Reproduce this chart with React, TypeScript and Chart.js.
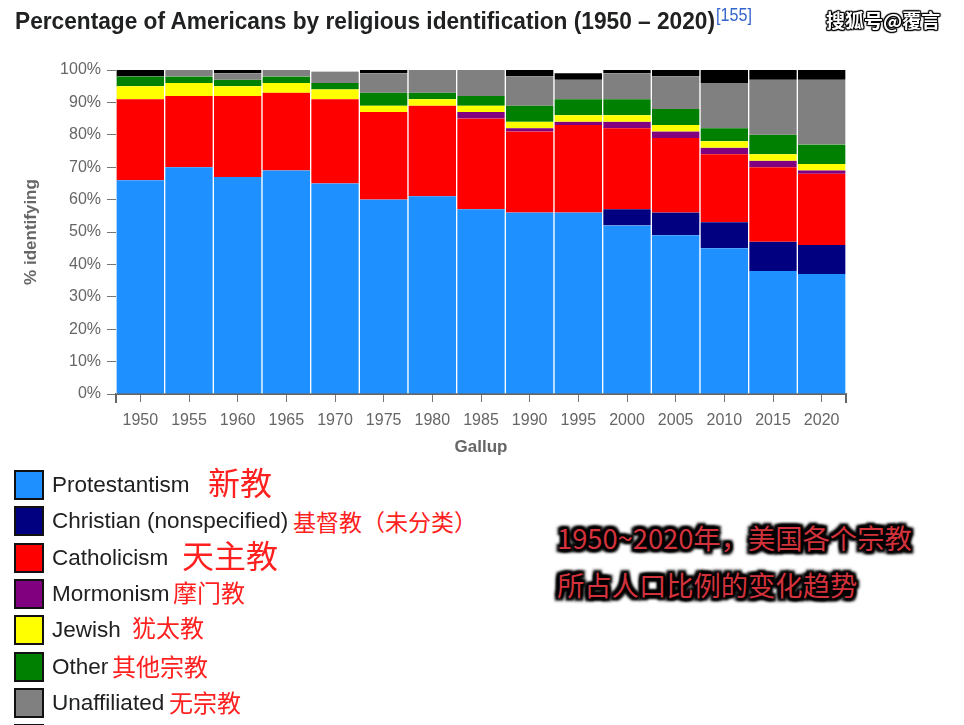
import React, { useEffect, useRef } from "react";
import { Chart, registerables } from "chart.js";

Chart.register(...registerables);

const years = ["1950", "1955", "1960", "1965", "1970", "1975", "1980", "1985", "1990", "1995", "2000", "2005", "2010", "2015", "2020"];

const protestantism = [66, 70, 67, 69, 65, 60, 61, 57, 56, 56, 52, 49, 45, 38, 37];
const christianNonspecified = [0, 0, 0, 0, 0, 0, 0, 0, 0, 0, 5, 7, 8, 9, 9];
const catholicism = [25, 22, 25, 24, 26, 27, 28, 28, 25, 27, 25, 23, 21, 23, 22];
const mormonism = [0, 0, 0, 0, 0, 0, 0, 2, 1, 1, 2, 2, 2, 2, 1];
const jewish = [4, 4, 3, 3, 3, 2, 2, 2, 2, 2, 2, 2, 2, 2, 2];
const other = [3, 2, 2, 2, 2, 4, 2, 3, 5, 5, 5, 5, 4, 6, 6];
const unaffiliated = [0, 2, 2, 2, 3.5, 6, 7, 8, 9, 6, 8, 10, 14, 17, 20];
const noAnswer = [2, 0, 1, 0, 0, 1, 0, 0, 2, 2, 1, 2, 4, 3, 3];

const seriesNames = ["Protestantism", "Christian (nonspecified)", "Catholicism", "Mormonism", "Jewish", "Other", "Unaffiliated", "No answer"];
const seriesColors = ["#1e90ff", "#000080", "#ff0000", "#800080", "#ffff00", "#008000", "#808080", "#000000"];
const seriesNotes = ["新教", "基督教（未分类）", "天主教", "摩门教", "犹太教", "其他宗教", "无宗教", ""];
const seriesValues = [protestantism, christianNonspecified, catholicism, mormonism, jewish, other, unaffiliated, noAnswer];

const chartTitle = "Percentage of Americans by religious identification (1950 – 2020)";
const titleRef = "[155]";
const watermark = "搜狐号@覆言";
const yAxisTitle = "% identifying";
const xAxisTitle = "Gallup";
const overlayLines = ["1950~2020年，美国各个宗教", "所占人口比例的变化趋势"];

const endTicks = {
  id: "endTicks",
  afterDraw(chart: any) {
    const { ctx, chartArea } = chart;
    const { left, right, bottom } = chartArea;
    ctx.save();
    ctx.strokeStyle = "#666";
    ctx.lineWidth = 2;
    ctx.beginPath();
    ctx.moveTo(left, bottom);
    ctx.lineTo(left, bottom + 9);
    ctx.moveTo(right, bottom);
    ctx.lineTo(right, bottom + 9);
    ctx.stroke();
    ctx.restore();
  },
};

export default function App() {
  const canvasRef = useRef<HTMLCanvasElement | null>(null);
  const titleRefEl = useRef<HTMLSpanElement | null>(null);

  useEffect(() => {
    const el = titleRefEl.current;
    if (el) {
      const w = el.getBoundingClientRect().width;
      if (w > 0) el.style.transform = `scaleX(${700 / w})`;
    }
  }, []);

  useEffect(() => {
    if (!canvasRef.current) return;
    const chart = new Chart(canvasRef.current, {
      type: "bar",
      data: {
        labels: years,
        datasets: seriesValues.map((vals, i) => ({
          label: seriesNames[i],
          data: vals,
          backgroundColor: seriesColors[i],
          borderColor: "rgba(255,255,255,0.9)",
          borderWidth: { left: 1, right: 1, top: 0, bottom: 0 },
          borderSkipped: false,
          barPercentage: 1,
          categoryPercentage: 1,
        })),
      },
      options: {
        responsive: false,
        animation: false,
        devicePixelRatio: 1,
        layout: { padding: { left: 0, right: 118, top: 70, bottom: 0 } },
        plugins: {
          legend: { display: false },
          tooltip: { enabled: false },
          title: { display: false },
        },
        scales: {
          x: {
            stacked: true,
            offset: true,
            grid: { display: true, drawOnChartArea: false, drawTicks: true, tickLength: 8, color: "#777", offset: false },
            border: { display: true, color: "#666", width: 2 },
            ticks: { color: "#666", font: { family: "'Liberation Sans', Arial, sans-serif", size: 16 }, padding: 9, maxRotation: 0, autoSkip: false },
            title: { display: true, text: xAxisTitle, color: "#666", font: { family: "'Liberation Sans', Arial, sans-serif", size: 17, weight: "bold" }, padding: { top: 0, bottom: 2 } },
            afterFit(scale: any) {
              scale.height = 66;
            },
          },
          y: {
            stacked: true,
            min: 0,
            max: 100,
            grid: { display: true, drawOnChartArea: false, drawTicks: true, tickLength: 9, color: "#777" },
            border: { display: true, color: "#999", width: 1 },
            ticks: {
              stepSize: 10,
              color: "#666",
              padding: 6,
              font: { family: "'Liberation Sans', Arial, sans-serif", size: 16 },
              callback: (v: any) => v + "%",
            },
            title: { display: true, text: yAxisTitle, color: "#666", font: { family: "'Liberation Sans', Arial, sans-serif", size: 17, weight: "bold" }, padding: { top: 21, bottom: 0 } },
            afterFit(scale: any) {
              scale.width = 116;
            },
          },
        },
      },
      plugins: [endTicks],
    });
    return () => chart.destroy();
  }, []);

  const noteLayout = [
    { x: 208, size: 32, dy: -4 },
    { x: 293, size: 23, dy: 0 },
    { x: 182, size: 32, dy: -4 },
    { x: 173, size: 24, dy: -2 },
    { x: 132, size: 24, dy: -4 },
    { x: 112, size: 24, dy: -1 },
    { x: 169, size: 24, dy: -1 },
    { x: 0, size: 24, dy: 0 },
  ];

  const outline = "#000";
  const haloShadow = [
    `2px 0 2px ${outline}`, `-2px 0 2px ${outline}`, `0 2px 2px ${outline}`, `0 -2px 2px ${outline}`,
    `2px 2px 2px ${outline}`, `-2px -2px 2px ${outline}`, `2px -2px 2px ${outline}`, `-2px 2px 2px ${outline}`,
    `3px 0 3px ${outline}`, `-3px 0 3px ${outline}`, `0 3px 3px ${outline}`, `0 -3px 3px ${outline}`,
    `3px 3px 3px ${outline}`, `-3px -3px 3px ${outline}`, `3px -3px 3px ${outline}`, `-3px 3px 3px ${outline}`,
  ].join(", ");
  const smallHalo = [
    `1px 0 1px #000`, `-1px 0 1px #000`, `0 1px 1px #000`, `0 -1px 1px #000`,
    `1px 1px 1px #000`, `-1px -1px 1px #000`, `1px -1px 1px #000`, `-1px 1px 1px #000`,
  ].join(", ");

  return (
    <div style={{ position: "fixed", left: 0, top: 0, width: 964, height: 725, overflow: "hidden", background: "#fff" }}>
      <canvas ref={canvasRef} width={964} height={460} style={{ position: "absolute", left: 0, top: 0, width: 964, height: 460 }} />
      <span
        ref={titleRefEl}
        style={{
          position: "absolute",
          left: 15,
          top: 9,
          display: "inline-block",
          transformOrigin: "0 0",
          fontFamily: "'Liberation Sans', Arial, sans-serif",
          fontWeight: "bold",
          fontSize: 24,
          lineHeight: "24px",
          color: "#202122",
          whiteSpace: "nowrap",
        }}
      >
        {chartTitle}
      </span>
      <span
        style={{
          position: "absolute",
          left: 716,
          top: 5,
          display: "inline-block",
          transformOrigin: "0 0",
          transform: "scaleX(0.85)",
          fontFamily: "'Liberation Sans', Arial, sans-serif",
          fontSize: 19,
          lineHeight: "19px",
          color: "#3366cc",
          whiteSpace: "nowrap",
        }}
      >
        {titleRef}
      </span>
      <div
        style={{
          position: "absolute",
          left: 826,
          top: 8,
          fontFamily: "'Noto Sans CJK SC', sans-serif",
          fontWeight: "bold",
          fontSize: 19,
          lineHeight: "24px",
          color: "#fff",
          whiteSpace: "nowrap",
          textShadow: smallHalo,
        }}
      >
        {watermark}
      </div>
      {seriesNames.map((name, i) => {
        const top = 470 + i * 36.3;
        return (
          <React.Fragment key={name}>
            <div
              style={{
                position: "absolute",
                left: 14,
                top,
                width: 30,
                height: 30,
                boxSizing: "border-box",
                border: "2px solid #111",
                background: seriesColors[i],
              }}
            />
            <div
              style={{
                position: "absolute",
                left: 52,
                top,
                height: 30,
                display: "flex",
                alignItems: "center",
                fontFamily: "'Liberation Sans', Arial, sans-serif",
                fontSize: 22.5,
                color: "#202122",
                whiteSpace: "nowrap",
              }}
            >
              {name}
            </div>
            {seriesNotes[i] ? (
              <div
                style={{
                  position: "absolute",
                  left: noteLayout[i].x,
                  top: top - 10 + noteLayout[i].dy,
                  height: 50,
                  display: "flex",
                  alignItems: "center",
                  fontFamily: "'Noto Sans CJK SC', sans-serif",
                  fontSize: noteLayout[i].size,
                  color: "#ff2020",
                  whiteSpace: "nowrap",
                }}
              >
                {seriesNotes[i]}
              </div>
            ) : null}
          </React.Fragment>
        );
      })}
      {overlayLines.map((line, i) => (
        <div
          key={i}
          style={{
            position: "absolute",
            left: 557,
            top: 517 + i * 47,
            height: 40,
            display: "flex",
            alignItems: "center",
            fontFamily: "'Noto Sans CJK SC', sans-serif",
            fontSize: 27.3,
            color: "#d2323c",
            whiteSpace: "nowrap",
            textShadow: haloShadow,
          }}
        >
          {line}
        </div>
      ))}
    </div>
  );
}
